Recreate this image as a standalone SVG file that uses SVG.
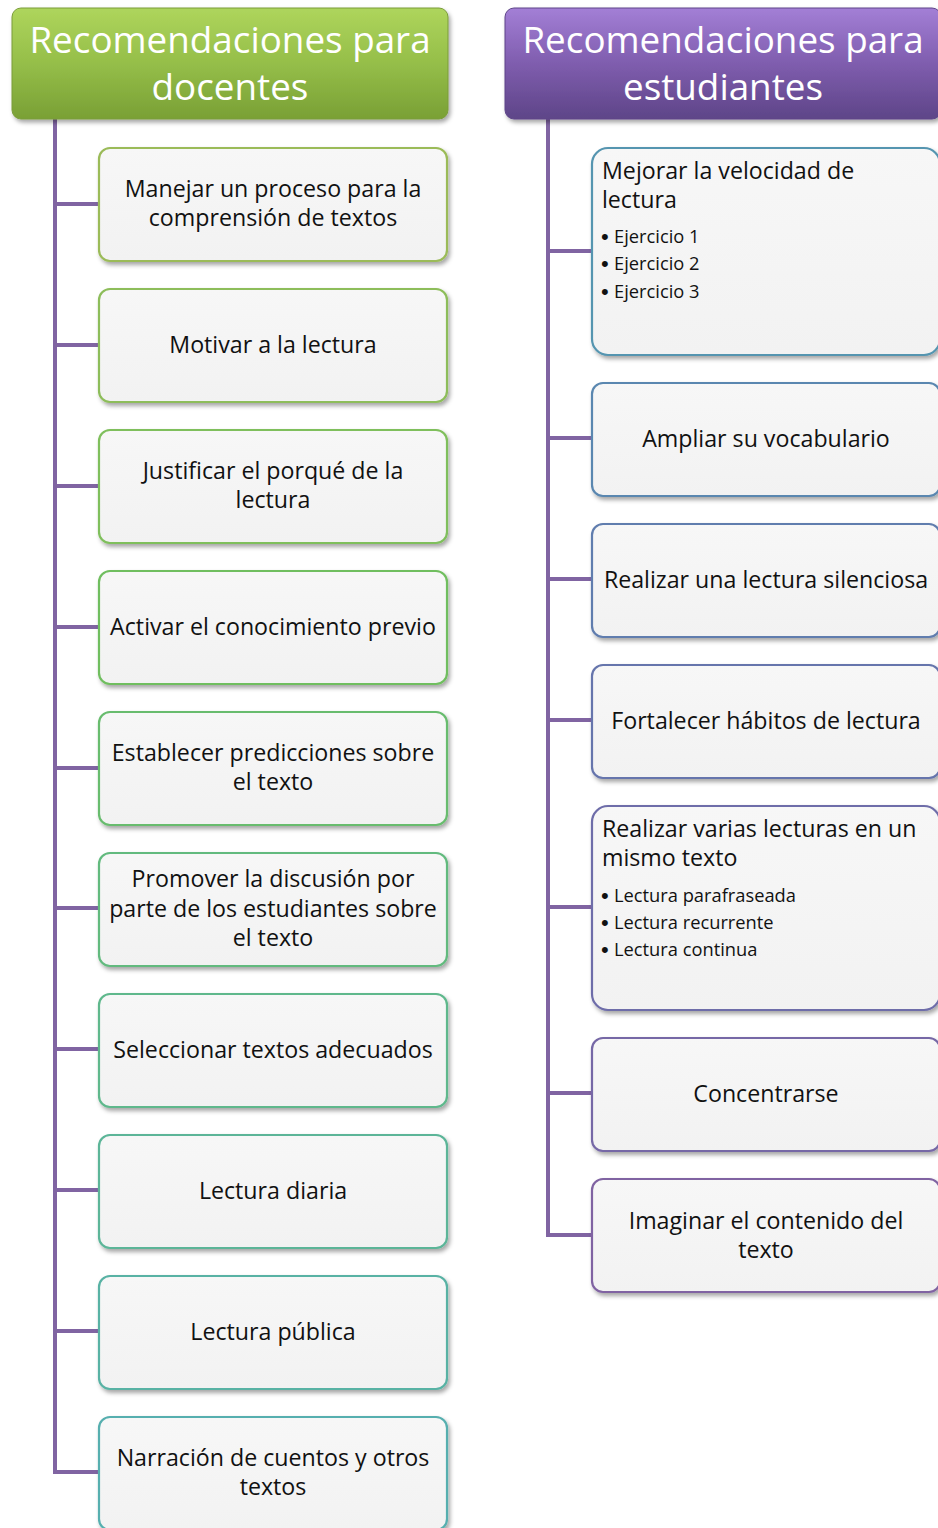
<svg xmlns="http://www.w3.org/2000/svg" width="938" height="1528" viewBox="0 0 938 1528">
<defs>
<linearGradient id="gGreen" x1="0" y1="0" x2="0" y2="1">
<stop offset="0" stop-color="#AED55C"/><stop offset="0.5" stop-color="#95BE49"/><stop offset="1" stop-color="#79A035"/>
</linearGradient>
<linearGradient id="gPurple" x1="0" y1="0" x2="0" y2="1">
<stop offset="0" stop-color="#A37FD6"/><stop offset="0.5" stop-color="#7F5DAE"/><stop offset="1" stop-color="#5E4588"/>
</linearGradient>
<linearGradient id="gBox" x1="0" y1="0" x2="0" y2="1">
<stop offset="0" stop-color="#F7F7F7"/><stop offset="1" stop-color="#F2F2F2"/>
</linearGradient>
<filter id="sh" x="-10%" y="-10%" width="125%" height="130%">
<feDropShadow dx="2" dy="3" stdDeviation="2.2" flood-color="#000" flood-opacity="0.35"/>
</filter>
</defs>
<style>
.hdr{font-family:"Open Sans","Liberation Sans",sans-serif;font-size:36.8px;fill:#fff;text-anchor:middle}
.t{font-family:"Open Sans","Liberation Sans",sans-serif;font-size:23.2px;fill:#111;text-anchor:middle}
.tl{font-family:"Open Sans","Liberation Sans",sans-serif;font-size:23.2px;fill:#111}
.b{font-family:"Open Sans","Liberation Sans",sans-serif;font-size:18.3px;fill:#111}
.dot{font-family:"Liberation Sans",sans-serif;font-size:22px;fill:#111}
.box{fill:url(#gBox);stroke-width:2.2;filter:url(#sh)}
.con{stroke:#8064A2;stroke-width:4;fill:none}
</style>
<g id="connectors">
<path class="con" d="M55 118 V1472 H99"/>
<path class="con" d="M55 204 H99 M55 345 H99 M55 486 H99 M55 627 H99 M55 768 H99 M55 908 H99 M55 1049 H99 M55 1190 H99 M55 1331 H99"/>
<path class="con" d="M548 118 V1235 H592"/>
<path class="con" d="M548 251 H592 M548 438 H592 M548 579 H592 M548 720 H592 M548 907 H592 M548 1093 H592"/>
</g>
<g id="header-docentes">
<rect x="12" y="8" width="436" height="111" rx="9" fill="url(#gGreen)" stroke="#7A9C3A" stroke-width="1" filter="url(#sh)"/>
<text class="hdr" x="230" y="53">Recomendaciones para</text>
<text class="hdr" x="230" y="100">docentes</text>
</g>
<g id="header-estudiantes">
<rect x="505" y="8" width="436" height="111" rx="9" fill="url(#gPurple)" stroke="#5E4588" stroke-width="1" filter="url(#sh)"/>
<text class="hdr" x="723" y="53">Recomendaciones para</text>
<text class="hdr" x="723" y="100">estudiantes</text>
</g>
<g id="d1"><rect class="box" x="99" y="148" width="348" height="113" rx="11" stroke="#9BBB59"/><text class="t" x="273" y="197">Manejar un proceso para la</text><text class="t" x="273" y="226">comprensión de textos</text></g>
<g id="d2"><rect class="box" x="99" y="289" width="348" height="113" rx="11" stroke="#8DBD5A"/><text class="t" x="273" y="353">Motivar a la lectura</text></g>
<g id="d3"><rect class="box" x="99" y="430" width="348" height="113" rx="11" stroke="#7FBF5C"/><text class="t" x="273" y="479">Justificar el porqué de la</text><text class="t" x="273" y="508">lectura</text></g>
<g id="d4"><rect class="box" x="99" y="571" width="348" height="113" rx="11" stroke="#70BE5F"/><text class="t" x="273" y="635">Activar el conocimiento previo</text></g>
<g id="d5"><rect class="box" x="99" y="712" width="348" height="113" rx="11" stroke="#68BC6E"/><text class="t" x="273" y="761">Establecer predicciones sobre</text><text class="t" x="273" y="790">el texto</text></g>
<g id="d6"><rect class="box" x="99" y="853" width="348" height="113" rx="11" stroke="#62BA7E"/><text class="t" x="273" y="887">Promover la discusión por</text><text class="t" x="273" y="917">parte de los estudiantes sobre</text><text class="t" x="273" y="946">el texto</text></g>
<g id="d7"><rect class="box" x="99" y="994" width="348" height="113" rx="11" stroke="#5EB88C"/><text class="t" x="273" y="1058">Seleccionar textos adecuados</text></g>
<g id="d8"><rect class="box" x="99" y="1135" width="348" height="113" rx="11" stroke="#5BB598"/><text class="t" x="273" y="1199">Lectura diaria</text></g>
<g id="d9"><rect class="box" x="99" y="1276" width="348" height="113" rx="11" stroke="#59B2A4"/><text class="t" x="273" y="1340">Lectura pública</text></g>
<g id="d10"><rect class="box" x="99" y="1417" width="348" height="113" rx="11" stroke="#57AFAF"/><text class="t" x="273" y="1466">Narración de cuentos y otros</text><text class="t" x="273" y="1495">textos</text></g>
<g id="e1"><rect class="box" x="592" y="148" width="348" height="207" rx="16" stroke="#5595B0"/>
<text class="tl" x="602" y="179">Mejorar la velocidad de</text><text class="tl" x="602" y="208">lectura</text>
<text class="dot" x="601" y="244">•</text><text class="b" x="614" y="243">Ejercicio 1</text>
<text class="dot" x="601" y="271">•</text><text class="b" x="614" y="270">Ejercicio 2</text>
<text class="dot" x="601" y="299">•</text><text class="b" x="614" y="298">Ejercicio 3</text></g>
<g id="e2"><rect class="box" x="592" y="383" width="348" height="113" rx="11" stroke="#5A87B0"/><text class="t" x="766" y="447">Ampliar su vocabulario</text></g>
<g id="e3"><rect class="box" x="592" y="524" width="348" height="113" rx="11" stroke="#607DAE"/><text class="t" x="766" y="588">Realizar una lectura silenciosa</text></g>
<g id="e4"><rect class="box" x="592" y="665" width="348" height="113" rx="11" stroke="#6675AC"/><text class="t" x="766" y="729">Fortalecer hábitos de lectura</text></g>
<g id="e5"><rect class="box" x="592" y="806" width="348" height="204" rx="16" stroke="#6E6DA9"/>
<text class="tl" x="602" y="837">Realizar varias lecturas en un</text><text class="tl" x="602" y="866">mismo texto</text>
<text class="dot" x="601" y="903">•</text><text class="b" x="614" y="902">Lectura parafraseada</text>
<text class="dot" x="601" y="930">•</text><text class="b" x="614" y="929">Lectura recurrente</text>
<text class="dot" x="601" y="957">•</text><text class="b" x="614" y="956">Lectura continua</text></g>
<g id="e6"><rect class="box" x="592" y="1038" width="348" height="113" rx="11" stroke="#7668A6"/><text class="t" x="766" y="1102">Concentrarse</text></g>
<g id="e7"><rect class="box" x="592" y="1179" width="348" height="113" rx="11" stroke="#8064A2"/><text class="t" x="766" y="1229">Imaginar el contenido del</text><text class="t" x="766" y="1258">texto</text></g>
</svg>
